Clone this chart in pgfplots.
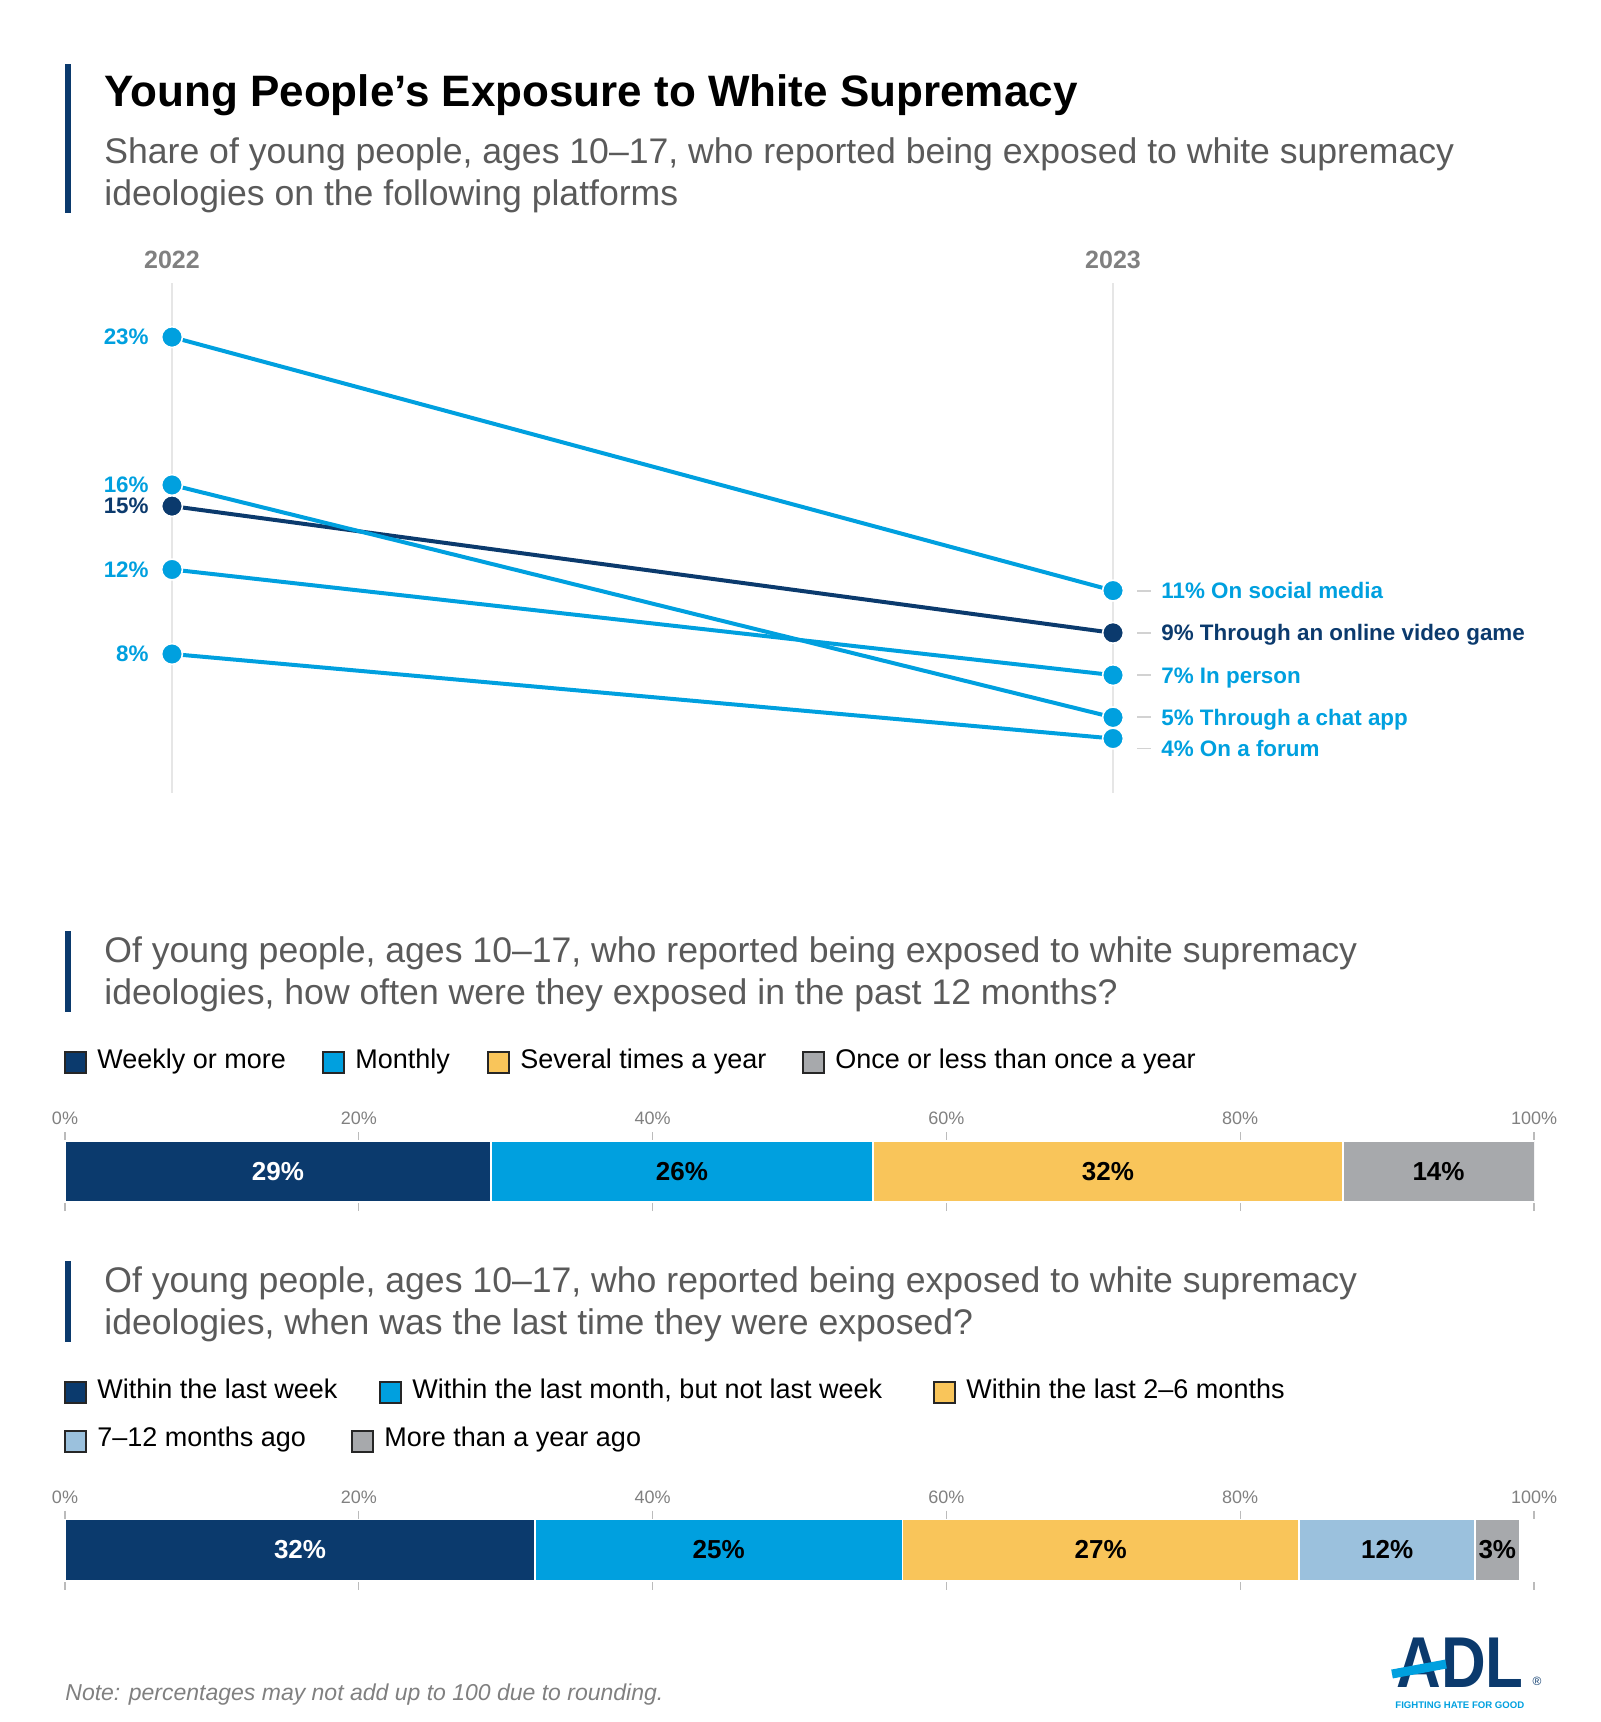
\documentclass[border=0pt]{standalone}
\usepackage{pgfplots}
\pgfplotsset{compat=1.18}
\usepackage{fontspec}
\setmainfont{Liberation Sans}
\definecolor{navy}{HTML}{0B3A6D}
\definecolor{lblue}{HTML}{00A0DF}
\definecolor{yel}{HTML}{F9C55A}
\definecolor{gry}{HTML}{A7A9AC}
\definecolor{steel}{HTML}{9BC1DD}
\definecolor{subg}{HTML}{5A5A5A}
\definecolor{yrg}{HTML}{808080}
\definecolor{gridg}{HTML}{E6E6E6}
\definecolor{tickg}{HTML}{BBBBBB}

\tikzset{
  lab/.style={inner sep=0pt, yshift=-1.3pt, font=\bfseries\fontsize{11.2}{13}\selectfont},
  sub/.style={anchor=base west, inner sep=0pt, text=subg, font=\fontsize{17.8}{20}\selectfont},
  leg/.style={anchor=mid west, inner sep=0pt, font=\fontsize{13.5}{15}\selectfont},
  key/.style={draw=black!85, line width=0.9pt},
  barlab/.style={inner sep=0pt, font=\bfseries\fontsize{13}{15}\selectfont},
}
\pgfplotsset{
  stackbar/.style={
    anchor=south west, width=734.5pt, height=31.5pt, scale only axis,
    xbar stacked, xmin=0, xmax=100, ymin=-0.5, ymax=0.5,
    ytick=\empty, bar width=30.5pt,
    axis line style={draw=none},
    xtick={0,20,40,60,80,100},
    xticklabels={0\%,20\%,40\%,60\%,80\%,100\%},
    xtick pos=both, xticklabel pos=upper, tick align=outside,
    major tick length=4pt,
    tick style={tickg, line width=0.6pt},
    xticklabel style={text=yrg, font=\fontsize{9}{10}\selectfont},
    every axis plot/.append style={draw=white, line width=0.8pt},
  }
}

\begin{document}
\begin{tikzpicture}
\begin{scope}[x=0.5pt,y=-0.5pt]
\path (0,0) rectangle (1600,1722);
% title block
\fill[navy] (65,64) rectangle (71,213);
\node[anchor=base west, inner sep=0pt, font=\bfseries\fontsize{22}{26}\selectfont] at (104,107) {Young People’s Exposure to White Supremacy};
\node[sub] at (104,164) {Share of young people, ages 10–17, who reported being exposed to white supremacy};
\node[sub] at (104,206) {ideologies on the following platforms};
% year labels
\node[text=yrg, font=\bfseries\fontsize{12.5}{14}\selectfont] at (172,260) {2022};
\node[text=yrg, font=\bfseries\fontsize{12.5}{14}\selectfont] at (1113,260) {2023};

% section 2
\fill[navy] (65,931) rectangle (71,1012);
\node[sub] at (104,962) {Of young people, ages 10–17, who reported being exposed to white supremacy};
\node[sub] at (104,1004) {ideologies, how often were they exposed in the past 12 months?};
\draw[key, fill=navy] (65,1052) rectangle (86,1073); \node[leg] at (97,1063) {Weekly or more};
\draw[key, fill=lblue] (323,1052) rectangle (344,1073); \node[leg] at (355,1063) {Monthly};
\draw[key, fill=yel] (488,1052) rectangle (509,1073); \node[leg] at (520,1063) {Several times a year};
\draw[key, fill=gry] (803,1052) rectangle (824,1073); \node[leg] at (835,1063) {Once or less than once a year};

% section 3
\fill[navy] (65,1261) rectangle (71,1342);
\node[sub] at (104,1292) {Of young people, ages 10–17, who reported being exposed to white supremacy};
\node[sub] at (104,1334) {ideologies, when was the last time they were exposed?};
\draw[key, fill=navy] (65,1382) rectangle (86,1403); \node[leg] at (97,1393) {Within the last week};
\draw[key, fill=lblue] (380,1382) rectangle (401,1403); \node[leg] at (412,1393) {Within the last month, but not last week};
\draw[key, fill=yel] (934,1382) rectangle (955,1403); \node[leg] at (966,1393) {Within the last 2–6 months};
\draw[key, fill=steel] (65,1431) rectangle (86,1452); \node[leg] at (97,1441) {7–12 months ago};
\draw[key, fill=gry] (352,1431) rectangle (373,1452); \node[leg] at (384,1441) {More than a year ago};

% note
\node[anchor=base west, inner sep=0pt, text=yrg, font=\itshape\fontsize{11.5}{13}\selectfont] at (65,1700) {Note: percentages may not add up to 100 due to rounding.};

% logo
\node[anchor=base west, inner sep=0pt, text=navy, font=\bfseries\fontsize{36}{40}\selectfont, xscale=0.86] at (1396,1687) {ADL};
\draw[lblue, line width=4.5pt] (1392,1674) -- (1446,1664);
\node[inner sep=0pt, text=navy, font=\fontsize{6}{7}\selectfont] at (1537,1681) {®};
\node[anchor=base west, inner sep=0pt, text=lblue, font=\bfseries\fontsize{4.8}{6}\selectfont] at (1395,1708) {FIGHTING HATE FOR GOOD};
\end{scope}

% slope chart
\begin{axis}[at={(86pt,-396.5pt)}, anchor=south west, width=470.5pt, height=255pt,
  scale only axis, xmin=0, xmax=1, ymin=1.42, ymax=25.56,
  axis line style={draw=none}, xtick={0,1}, xticklabel=\empty, ytick=\empty,
  major tick length=0pt, xmajorgrids, grid style={gridg, line width=1.3pt}, clip=false,
  every axis plot/.append style={line width=2pt, mark=*, mark size=5.2pt},
]
\addplot[navy, mark options={fill=navy, draw=white, line width=0.8pt}] coordinates {(0,15) (1,9)};
\addplot[lblue, mark options={fill=lblue, draw=white, line width=0.8pt}] coordinates {(0,23) (1,11)};
\addplot[lblue, mark options={fill=lblue, draw=white, line width=0.8pt}] coordinates {(0,12) (1,7)};
\addplot[lblue, mark options={fill=lblue, draw=white, line width=0.8pt}] coordinates {(0,16) (1,5)};
\addplot[lblue, mark options={fill=lblue, draw=white, line width=0.8pt}] coordinates {(0,8) (1,4)};
% left labels
\node[lab, anchor=mid east, text=lblue] at ([xshift=-11.5pt]axis cs:0,23) {23\%};
\node[lab, anchor=mid east, text=lblue] at ([xshift=-11.5pt]axis cs:0,16) {16\%};
\node[lab, anchor=mid east, text=navy] at ([xshift=-11.5pt]axis cs:0,15) {15\%};
\node[lab, anchor=mid east, text=lblue] at ([xshift=-11.5pt]axis cs:0,12) {12\%};
\node[lab, anchor=mid east, text=lblue] at ([xshift=-11.5pt]axis cs:0,8) {8\%};
% right labels
\draw[gridg!80!gray, line width=0.9pt] ([xshift=12pt]axis cs:1,11) -- ([xshift=19pt]axis cs:1,11);
\node[lab, anchor=mid west, text=lblue] at ([xshift=24pt]axis cs:1,11) {11\% On social media};
\draw[gridg!80!gray, line width=0.9pt] ([xshift=12pt]axis cs:1,9) -- ([xshift=19pt]axis cs:1,9);
\node[lab, anchor=mid west, text=navy] at ([xshift=24pt]axis cs:1,9) {9\% Through an online video game};
\draw[gridg!80!gray, line width=0.9pt] ([xshift=12pt]axis cs:1,7) -- ([xshift=19pt]axis cs:1,7);
\node[lab, anchor=mid west, text=lblue] at ([xshift=24pt]axis cs:1,7) {7\% In person};
\draw[gridg!80!gray, line width=0.9pt] ([xshift=12pt]axis cs:1,5) -- ([xshift=19pt]axis cs:1,5);
\node[lab, anchor=mid west, text=lblue] at ([xshift=24pt]axis cs:1,5) {5\% Through a chat app};
\draw[gridg!80!gray, line width=0.9pt] ([xshift=12pt,yshift=-5pt]axis cs:1,4) -- ([xshift=19pt,yshift=-5pt]axis cs:1,4);
\node[lab, anchor=mid west, text=lblue] at ([xshift=24pt,yshift=-5pt]axis cs:1,4) {4\% On a forum};
\end{axis}

% bar 1: how often
\begin{axis}[stackbar, at={(32.5pt,-601.5pt)}]
\addplot[fill=navy] coordinates {(29,0)};
\addplot[fill=lblue] coordinates {(26,0)};
\addplot[fill=yel] coordinates {(32,0)};
\addplot[fill=gry] coordinates {(14,0)};
\coordinate (a1) at (axis cs:14.5,0);
\coordinate (a2) at (axis cs:42,0);
\coordinate (a3) at (axis cs:71,0);
\coordinate (a4) at (axis cs:93.5,0);
\end{axis}
\node[barlab, text=white] at (a1) {29\%};
\node[barlab] at (a2) {26\%};
\node[barlab] at (a3) {32\%};
\node[barlab] at (a4) {14\%};

% bar 2: last time
\begin{axis}[stackbar, at={(32.5pt,-790.75pt)}]
\addplot[fill=navy] coordinates {(32,0)};
\addplot[fill=lblue] coordinates {(25,0)};
\addplot[fill=yel] coordinates {(27,0)};
\addplot[fill=steel] coordinates {(12,0)};
\addplot[fill=gry] coordinates {(3,0)};
\coordinate (b1) at (axis cs:16,0);
\coordinate (b2) at (axis cs:44.5,0);
\coordinate (b3) at (axis cs:70.5,0);
\coordinate (b4) at (axis cs:90,0);
\coordinate (b5) at (axis cs:97.5,0);
\end{axis}
\node[barlab, text=white] at (b1) {32\%};
\node[barlab] at (b2) {25\%};
\node[barlab] at (b3) {27\%};
\node[barlab] at (b4) {12\%};
\node[barlab] at (b5) {3\%};
\end{tikzpicture}
\end{document}
